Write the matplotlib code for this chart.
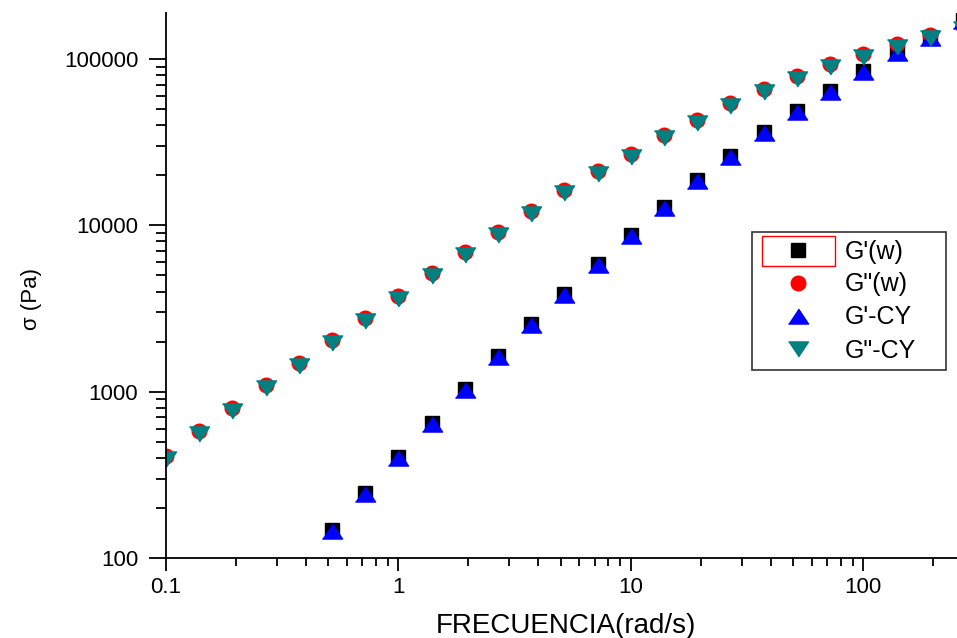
import matplotlib
matplotlib.use("Agg")
import matplotlib.pyplot as plt
import numpy as np
from matplotlib.ticker import FuncFormatter, NullFormatter, LogLocator
from matplotlib.patches import Rectangle

plt.rcParams['font.family'] = ['Liberation Sans', 'DejaVu Sans']

# frequencies (rad/s), 7 points per decade
freq = [0.1, 0.139, 0.193, 0.268, 0.373, 0.518, 0.72, 1.0, 1.39, 1.93, 2.68,
        3.73, 5.18, 7.2, 10.0, 13.9, 19.3, 26.8, 37.3, 51.8, 72.0, 100.0,
        139.0, 193.0, 268.0]

g2_w = [410, 580, 800, 1100, 1490, 2050, 2780, 3770, 5180, 6930, 9150,
        12200, 16350, 21200, 26900, 35000, 43000, 54500, 66200, 79200,
        93400, 107500, 123500, 140000, 158000]
g2_cy = [392, 553, 762, 1048, 1420, 1955, 2650, 3600, 4940, 6610, 8730,
         11650, 15600, 20250, 25700, 33400, 41100, 52000, 63200, 75600,
         89200, 102600, 118000, 134000, 151000]

freq_g1 = freq[5:]
g1_w = [147, 246, 405, 648, 1040, 1640, 2550, 3870, 5860, 8750, 12900,
        18750, 26100, 36400, 48800, 64300, 84800, 110000, 136000, 172000]
g1_cy = [145, 243, 400, 640, 1030, 1620, 2520, 3830, 5800, 8660, 12770,
         18560, 25850, 36000, 48300, 63600, 84000, 108900, 134600, 170000]

tri_up = [(-1, -0.75), (1, -0.75), (0, 0.75)]
tri_down = [(-1, 0.75), (1, 0.75), (0, -0.75)]

fig = plt.figure(figsize=(9.57, 6.38), dpi=100)
ax = fig.add_axes([0.1735, 0.1254, 0.8265, 0.8542])

ax.plot(freq_g1, g1_w, ls='none', marker='s', ms=10.5, color='black', label="G'(w)")
ax.plot(freq, g2_w, ls='none', marker='o', ms=10.5, color='#ff0000', label='G"(w)')
ax.plot(freq_g1, g1_cy, ls='none', marker=tri_up, ms=14.5, color='#0000ff', label="G'-CY")
ax.plot(freq, g2_cy, ls='none', marker=tri_down, ms=14.5, color='#008080', label='G"-CY')

ax.set_xscale('log')
ax.set_yscale('log')
ax.set_xlim(0.1, 253)
ax.set_ylim(100, 189000)

for s in ['top', 'right']:
    ax.spines[s].set_visible(False)
for s in ['left', 'bottom']:
    ax.spines[s].set_linewidth(1.3)

ax.xaxis.set_major_locator(LogLocator(base=10))
ax.yaxis.set_major_locator(LogLocator(base=10))
ax.xaxis.set_minor_locator(LogLocator(base=10, subs=np.arange(2, 10)))
ax.yaxis.set_minor_locator(LogLocator(base=10, subs=np.arange(2, 10)))
ax.xaxis.set_major_formatter(FuncFormatter(lambda v, p: '%g' % v))
ax.yaxis.set_major_formatter(FuncFormatter(lambda v, p: '%d' % v))
ax.xaxis.set_minor_formatter(NullFormatter())
ax.yaxis.set_minor_formatter(NullFormatter())

ax.tick_params(axis='y', which='major', length=12, width=1.3, labelsize=16, pad=8)
ax.tick_params(axis='y', which='minor', length=7, width=1.3)
ax.tick_params(axis='x', which='major', length=9, width=1.3, labelsize=16, pad=5)
ax.tick_params(axis='x', which='minor', length=6, width=1.3)

ax.set_xlabel('FRECUENCIA(rad/s)', fontsize=20)
ax.set_ylabel('σ (Pa)', fontsize=16)
ax.xaxis.set_label_coords(0.506, -0.101)
ax.yaxis.set_label_coords(-0.157, 0.475)

leg = ax.legend(loc='upper left',
                bbox_to_anchor=(752 / 957, 1 - 364 / 638, 194 / 957, 132 / 638),
                bbox_transform=fig.transFigure, mode='expand', fontsize=18,
                frameon=True, fancybox=False, edgecolor='black',
                handlelength=3.08, handletextpad=0.34, labelspacing=0.36,
                borderpad=0.3, borderaxespad=0)
leg.get_frame().set_linewidth(1.2)

fig.patches.append(Rectangle((762 / 957, 1 - 266 / 638), 73 / 957, 30 / 638,
                             transform=fig.transFigure, fill=False,
                             edgecolor='#ff0000', linewidth=1.0, zorder=10))

fig.savefig('out.png', dpi=100)
